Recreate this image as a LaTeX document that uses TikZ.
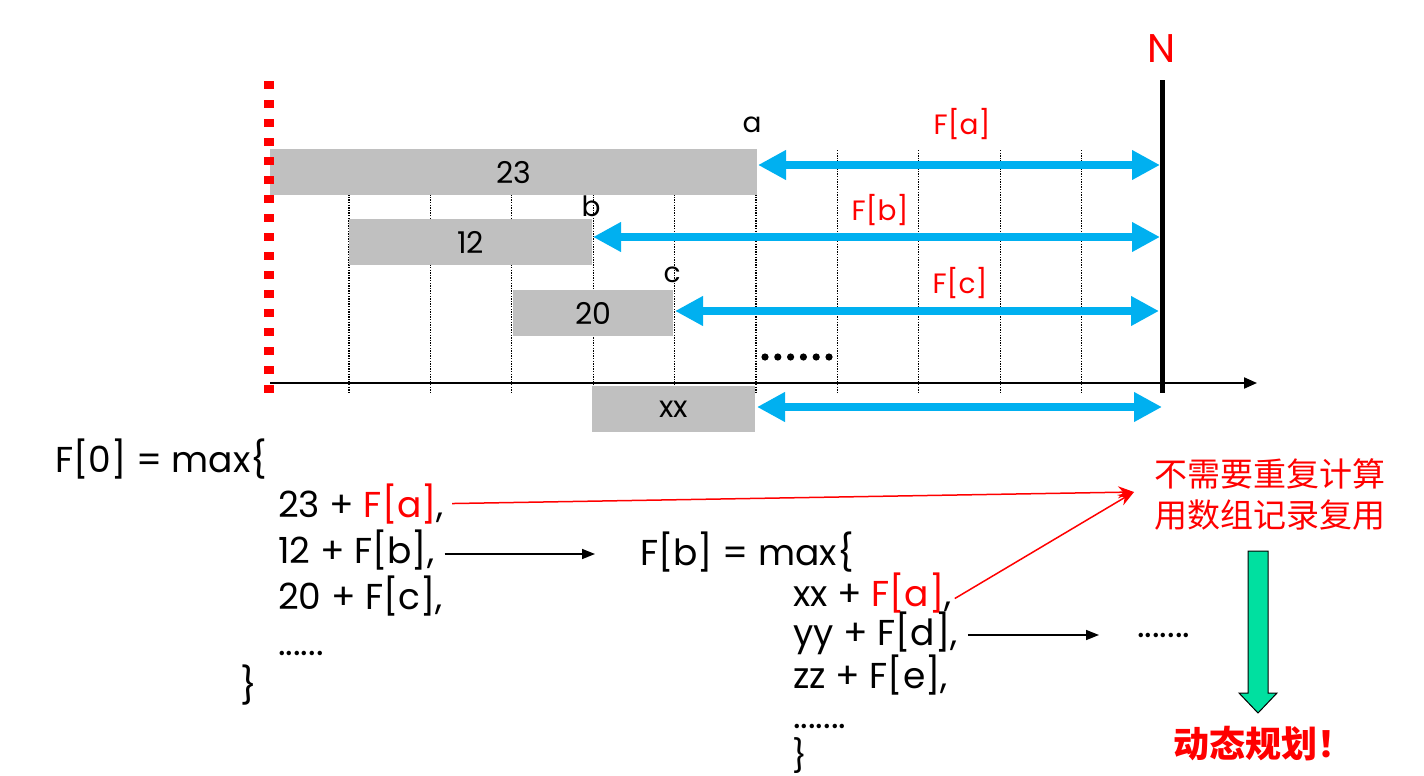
\documentclass[tikz,border=0pt]{standalone}
\usepackage{fontspec}
\setmainfont{Poppins}
\newfontfamily\cjk{Noto Sans CJK SC}
\usetikzlibrary{arrows.meta}
\definecolor{barg}{RGB}{192,192,192}
\definecolor{cyanA}{RGB}{0,176,240}
\definecolor{greenA}{RGB}{0,224,160}
\newcommand\fs[1]{\fontsize{#1}{#1}\selectfont}
\tikzset{
  bar/.style={fill=barg, inner sep=0pt, minimum height=46pt, text=black, font=\fs{30}},
  lbl/.style={font=\fs{28}, inner sep=0pt},
  flbl/.style={font=\fs{28}, text=red, inner sep=0pt},
  gridline/.style={black, line width=1.2pt, dash pattern=on 1.3pt off 1.3pt},
  spanarrow/.style={cyanA, line width=8pt, {Triangle[length=28pt,width=28pt]}-{Triangle[length=28pt,width=28pt]}},
  eq/.style={font=\fs{36}, inner sep=0pt, anchor=base west},
  thinarrow/.style={line width=1.5pt, -{Triangle[length=13pt,width=10pt]}},
  redarrow/.style={red, line width=1.5pt, -{Stealth[length=16pt,width=12pt]}},
  zh/.style={font=\cjk\fs{33}, text=red, inner sep=0pt},
}
\begin{document}
\begin{tikzpicture}[x=1pt,y=-1pt]
\useasboundingbox (0,0) rectangle (1424,776);
% grid
\foreach \i in {0,...,9} \draw[gridline] ({349+81.4*\i},150) -- ({349+81.4*\i},393);
% bars
\node[bar, minimum width=487pt, anchor=north west] (b23) at (270,149) {23};
\node[bar, minimum width=243pt, anchor=north west] (b12) at (349,219) {12};
\node[bar, minimum width=160pt, anchor=north west] (b20) at (513,290) {20};
\node[bar, minimum width=163pt, anchor=north west] (bxx) at (592,386) {xx};
% red dotted boundary
\coordinate (rtop) at (269,81);
\coordinate (rbot) at (269,393);
\draw[red, line width=10pt, dash pattern=on 8pt off 11pt] (rtop) -- (rbot);
% axis
\coordinate (ax0) at (270,383);
\coordinate (ax1) at (1257,383);
\draw[line width=2pt, -{Triangle[length=13pt,width=11pt]}] (ax0) -- (ax1);
% N line
\coordinate (Ntop) at (1162,80);
\coordinate (Nbot) at (1162,393);
\draw[line width=5pt] (Ntop) -- (Nbot);
\node[font=\fs{40}, text=red, inner sep=0pt] (N) at (1162,49) {N};
% spans
\coordinate (aL) at (758,165);  \coordinate (aR) at (1160,165);
\coordinate (bL) at (593,237);  \coordinate (bR) at (1160,237);
\coordinate (cL) at (675,311);  \coordinate (cR) at (1159,311);
\coordinate (xL) at (757,407);  \coordinate (xR) at (1162,407);
\draw[spanarrow] (aL) -- (aR);
\draw[spanarrow] (bL) -- (bR);
\draw[spanarrow] (cL) -- (cR);
\draw[spanarrow] (xL) -- (xR);
% labels
\node[lbl] (la) at (752,125) {a};
\node[lbl] (lb) at (591,206) {b};
\node[lbl] (lc) at (672,275) {c};
\node[flbl] (fa) at (962,124) {F[a]};
\node[flbl] (fb) at (880,210) {F[b]};
\node[flbl] (fc) at (960,283) {F[c]};
\foreach \k in {0,...,5} \fill ({765+12.8*\k},357) circle (3.6);
% equations left
\node[eq] (f0) at (55,472) {F[0] = max\{};
\node[eq] (l1) at (278,517) {23 + \textcolor{red}{F[a]},};
\node[eq] (l2) at (278,563) {12 + F[b],};
\node[eq] (l3) at (278,609) {20 + F[c],};
\node[eq] (l4) at (278,655) {......};
\node[eq] (l5) at (240,698) {\}};
% equations right
\node[eq] (g0) at (640,565) {F[b] = max\{};
\node[eq] (m1) at (793,606) {xx + \textcolor{red}{F[a]},};
\node[eq] (m2) at (793,645) {yy + F[d],};
\node[eq] (m3) at (793,688) {zz + F[e],};
\node[eq] (m4) at (793,728) {.......};
\node[eq, font=\fs{32}] (m5) at (792,767) {\}};
\node[eq] (m6) at (1137,637) {.......};
% chinese
\node[zh] (zh1) at (1270,474) {不需要重复计算};
\node[zh] (zh2) at (1270,515) {用数组记录复用};
\node[zh, font=\cjk\bfseries\fs{36}] (dp) at (1263,744) {动态规划！};
% connectors
\coordinate (tgt) at (1134,492);
\coordinate (e1) at (595,554);
\coordinate (e2) at (1099,635);
\draw[redarrow] ([xshift=8pt]l1.east) -- (tgt);
\draw[redarrow] ([xshift=3pt,yshift=-6pt]m1.east) -- (tgt);
\draw[thinarrow] ([xshift=10pt]l2.east |- e1) -- (e1);
\draw[thinarrow] ([xshift=10pt]m2.east |- e2) -- (e2);
% green block arrow
\draw[fill=greenA, line width=1pt] (1248,551) -- (1268,551) -- (1268,693) -- (1277,693) -- (1258,713) -- (1239,693) -- (1248,693) -- cycle;
\end{tikzpicture}
\end{document}
